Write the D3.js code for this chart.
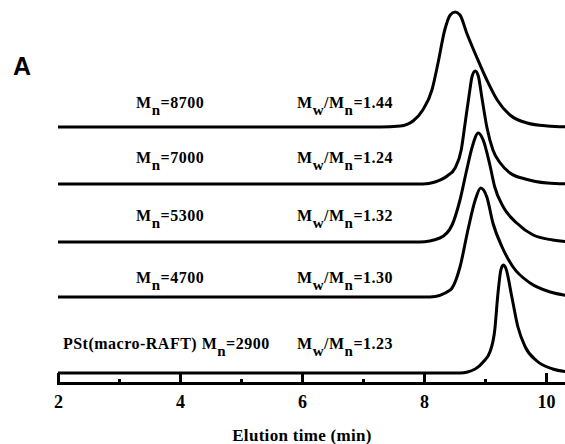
<!DOCTYPE html>
<html lang="en">
<head>
<meta charset="utf-8">
<title>GPC traces</title>
<script src="https://d3js.org/d3.v7.min.js"></script>
<style>
    body { margin: 0; background: #fff; }
    svg#chart { display: block; }
    .lbl { font-family: "Liberation Serif", "Times New Roman", serif; font-weight: bold; font-size: 16px; letter-spacing: 0.5px; }
    .axis text { font-family: "Liberation Serif", "Times New Roman", serif; font-weight: bold; font-size: 18px; }
    .axis path, .axis line { stroke: #000; stroke-width: 3px; }
    .trace { fill: none; stroke: #000; stroke-width: 3px; stroke-linejoin: round; }
</style>
</head>
<body>
<svg id="chart" width="565" height="444"></svg>
<script>
    // [elution time (min), detector signal]
    const trace8700 = [[2,0],[7.28,0],[7.61,0.1],[7.82,0.6],[7.98,1.7],[8.13,3.7],[8.23,6.4],[8.34,9.7],[8.43,11.2],[8.51,11.5],[8.59,11.2],[8.70,9.4],[8.87,6.9],[9.03,4.7],[9.20,2.7],[9.41,1.2],[9.69,0.4],[10.02,0.1],[10.4,0]];
    const trace7000 = [[2,0],[7.98,0],[8.18,0.2],[8.38,0.8],[8.51,1.6],[8.61,3.4],[8.67,5.9],[8.74,8.9],[8.79,10.8],[8.84,11.3],[8.89,10.8],[8.95,8.6],[9.03,5.7],[9.13,3.4],[9.25,2.1],[9.41,1.1],[9.66,0.5],[10.02,0.1],[10.4,0]];
    const trace5300 = [[2,0],[7.93,0],[8.26,0.4],[8.46,1.7],[8.59,4.2],[8.70,7.2],[8.79,9.5],[8.89,10.9],[8.97,10.2],[9.08,7.7],[9.16,5.5],[9.30,3.5],[9.52,1.9],[9.79,0.7],[10.11,0.2],[10.4,0]];
    const trace4700 = [[2,0],[8.10,0],[8.43,0.7],[8.59,3.0],[8.72,6.7],[8.84,9.7],[8.93,10.9],[9.03,10.0],[9.13,7.4],[9.28,5.0],[9.46,3.0],[9.74,1.4],[10.07,0.5],[10.4,0.1]];
    const trace2900 = [[2,0],[8.59,0],[8.84,0.4],[8.97,1.1],[9.08,2.1],[9.16,4.3],[9.21,7.8],[9.26,10.3],[9.30,10.8],[9.34,10.5],[9.44,7.6],[9.54,4.6],[9.66,2.6],[9.85,1.2],[10.11,0.4],[10.4,0.1]];

    const traces = [trace8700, trace7000, trace5300, trace4700, trace2900];
    const offsets = [24.6, 18.9, 13.1, 7.6, 0];
    const prefixes = ["", "", "", "", "PSt(macro-RAFT) "];
    const mnValues = ["8700", "7000", "5300", "4700", "2900"];
    const pdiValues = ["1.44", "1.24", "1.32", "1.30", "1.23"];
    const labelLevels = [26.5, 21.0, 15.2, 9.0, 2.4];
    const labelStart = [3.28, 3.28, 3.28, 3.28, 2.08];
    const pdiStart = 5.92;
    const majorTicks = [2, 4, 6, 8, 10];
    const minorTicks = [3, 5, 7, 9];

    var svg = d3.select("#chart");

    let x = d3.scaleLinear().domain([2, 11]).range([58, 607]);
    let y = d3.scaleLinear().domain([-1, 36.1]).range([383, 12]);

    // bottom axis, ticks pointing inward
    let xAxis = d3.axisBottom(x).tickValues(majorTicks).tickSize(-10).tickSizeOuter(0).tickPadding(12);
    let axis_g = svg.append("g").attr("class", "axis")
        .attr("transform", "translate(0," + y(-1) + ")")
        .call(xAxis);
    axis_g.select(".domain").attr("stroke-linecap", "square");

    let minorAxis = d3.axisBottom(x).tickValues(minorTicks).tickSize(-4).tickFormat("");
    let minor_g = svg.append("g").attr("class", "axis")
        .attr("transform", "translate(0," + y(-1) + ")")
        .call(minorAxis);
    minor_g.select(".domain").remove();

    svg.append("text")
        .attr("class", "lbl")
        .attr("x", x(6)).attr("y", 441)
        .attr("text-anchor", "middle")
        .style("font-size", "17px").style("letter-spacing", "0.3px")
        .text("Elution time (min)");

    // traces
    traces.forEach(function(tr, i){
        let line = d3.line()
            .x(function(d){ return x(d[0]); })
            .y(function(d){ return y(d[1] + offsets[i]); })
            .curve(d3.curveMonotoneX);
        svg.append("path").attr("class", "trace").attr("d", line(tr));
    });

    // Mn and PDI labels
    for (let i = 0; i < traces.length; i++){
        let t1 = svg.append("text").attr("class", "lbl")
            .attr("x", x(labelStart[i])).attr("y", y(labelLevels[i]));
        t1.append("tspan").text(prefixes[i] + "M");
        t1.append("tspan").attr("dy", 7).style("font-size", "15px").text("n");
        t1.append("tspan").attr("dy", -7).text("=" + mnValues[i]);

        let t2 = svg.append("text").attr("class", "lbl")
            .attr("x", x(pdiStart)).attr("y", y(labelLevels[i]));
        t2.append("tspan").text("M");
        t2.append("tspan").attr("dy", 7).style("font-size", "15px").text("w");
        t2.append("tspan").attr("dy", -7).text("/M");
        t2.append("tspan").attr("dy", 7).style("font-size", "15px").text("n");
        t2.append("tspan").attr("dy", -7).text("=" + pdiValues[i]);
    }

    svg.append("text")
        .attr("x", 13).attr("y", 75)
        .style("font-family", "'Liberation Sans', Arial, sans-serif")
        .style("font-weight", "bold").style("font-size", "25px")
        .text("A");
</script>
</body>
</html>
